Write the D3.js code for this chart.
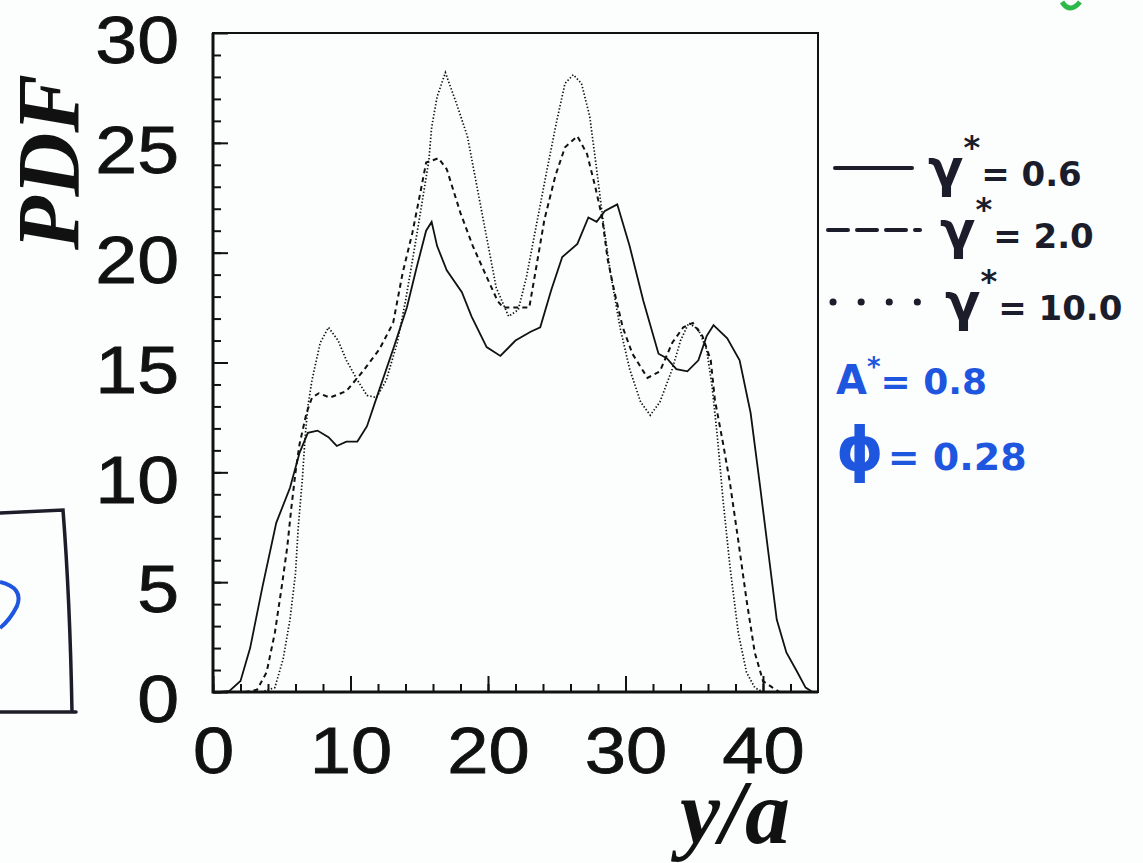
<!DOCTYPE html>
<html>
<head>
<meta charset="utf-8">
<script src="https://cdn.jsdelivr.net/npm/d3@7"></script>
<style>
  html, body { margin: 0; padding: 0; background: #fcfdfd; }
  svg { display: block; }
  .tick text { font-family: "Liberation Sans", Arial, sans-serif; fill: #111; stroke: #111; stroke-width: 0.8px; }
</style>
</head>
<body>
<div id="chart-container"></div>
<script>
// chart values: [y/a, PDF]
const gamma06 = [
  [0.5, 0], [1.2, 0.05], [2, 0.5], [2.7, 2], [3.6, 4.8], [4.6, 7.7], [5.6, 9.3],
  [6.3, 10.9], [6.9, 11.8], [7.6, 11.9], [8.4, 11.6], [9, 11.2], [9.7, 11.4],
  [10.5, 11.4], [11.2, 12.1], [11.9, 13.4], [13.1, 15.6], [14.1, 17.5], [14.8, 19.3],
  [15.5, 21], [15.9, 21.4], [16.3, 20.3], [17, 19.2], [18.1, 18.2], [18.8, 17.1],
  [19.9, 15.7], [20.9, 15.3], [22, 16], [23.1, 16.4], [23.8, 16.6], [24.6, 18.3],
  [25.4, 19.8], [26.5, 20.4], [27.3, 21.6], [27.9, 21.4], [28.5, 21.9], [29.4, 22.2],
  [30.3, 20.3], [31.3, 17.8], [32.4, 15.4], [33, 15.2], [33.7, 14.7], [34.5, 14.6],
  [35.3, 15.1], [35.9, 16.2], [36.4, 16.7], [37.4, 16.1], [38.3, 15.1], [39.1, 12.7],
  [39.8, 9.3], [40.4, 6.3], [41, 3.3], [41.7, 1.8], [42.5, 0.9], [43.1, 0.2], [43.6, 0]
];
const gamma20 = [
  [2.3, 0], [3.2, 0.1], [3.9, 0.9], [4.5, 2.7], [5, 4.8], [5.4, 6.6], [5.7, 8.4],
  [6, 10], [6.3, 11.3], [6.8, 12.7], [7.2, 13.4], [7.7, 13.6], [8.5, 13.4], [9.7, 13.7],
  [10.9, 14.6], [12.1, 15.6], [13.1, 16.8], [13.8, 19.1], [14.5, 20.9], [15.1, 22.8],
  [15.5, 24.1], [16.4, 24.3], [17, 23.8], [18, 21.8], [18.9, 20.3], [19.9, 18.9],
  [20.7, 17.8], [21.1, 17.5], [22.5, 17.5], [23, 17.5], [23.5, 19.3], [24.1, 21.5],
  [24.9, 23.5], [25.6, 24.8], [26.5, 25.3], [27.2, 24.5], [27.8, 23], [28.3, 21.6],
  [28.7, 19.7], [29.2, 18.2], [29.8, 16.6], [30.5, 15.4], [31.6, 14.3], [32.5, 14.6],
  [33.4, 15.9], [34.2, 16.6], [34.9, 16.8], [35.6, 16.2], [36.2, 15.1], [36.5, 13.3],
  [37.1, 11.3], [37.6, 9.5], [38.2, 6.9], [38.8, 4.2], [39.4, 1.8], [40, 0.5],
  [40.7, 0.2], [41.2, 0]
];
const gamma100 = [
  [3.5, 0], [4.5, 0.2], [5.1, 1.5], [5.6, 3.3], [6, 5.4], [6.2, 7.5], [6.5, 9.7],
  [6.7, 11.6], [6.9, 13], [7.2, 14.2], [7.8, 15.9], [8.4, 16.6], [9.1, 16], [9.7, 15.1],
  [10.5, 14.2], [11.2, 13.5], [11.9, 13.4], [12.6, 14.2], [13.4, 15.9], [14, 17.8],
  [14.6, 20], [15, 21.5], [15.7, 24.2], [15.9, 25.7], [16.3, 27.1], [16.9, 28.2],
  [17.7, 26.8], [18.5, 25.3], [19.2, 23], [19.9, 20.7], [20.6, 18.4], [21.5, 17.1],
  [22.2, 17.4], [22.8, 18.9], [23.5, 21.2], [24.3, 23.8], [25, 26], [25.6, 27.7],
  [26.2, 28.1], [26.8, 27.7], [27.4, 26.2], [27.9, 23.8], [28.4, 21.3], [28.9, 19.1],
  [29.6, 16.6], [30.3, 14.7], [31.1, 13.2], [31.8, 12.6], [32.5, 13.2], [33.4, 14.7],
  [34, 16], [34.6, 16.8], [35.3, 16.5], [35.9, 15.6], [36.3, 13.9], [36.7, 11.5],
  [37.1, 8.7], [37.6, 5.7], [38.2, 2.7], [38.8, 0.9], [39.4, 0.2], [40, 0]
];

const xTicks = [0, 10, 20, 30, 40];
const xMinorTicks = d3.range(0, 44, 2);
const yTicks = [0, 5, 10, 15, 20, 25, 30];
const yMinorTicks = d3.range(0, 30, 1);

const legendLabels = ["0.6", "2.0", "10.0"];
const paramLabels = [["A", "= 0.8"], ["\u03d5", "= 0.28"]];

// dimensions and margins
const margin = { top: 33, right: 325, bottom: 171, left: 213 };
const width = 1143 - margin.left - margin.right;
const height = 863 - margin.top - margin.bottom;

// the scanned digits are wider than the font, so stretch them
const stretch = 1.14;

const xScale = d3.scaleLinear().domain([0, 44]).range([0, width]);
const yScale = d3.scaleLinear().domain([0, 30]).range([height, 0]);

const root = d3
  .select("#chart-container")
  .append("svg")
  .attr("width", 1143)
  .attr("height", 863);

const svg = root
  .append("g")
  .attr("transform", `translate(${margin.left}, ${margin.top})`);

// minor ticks (inside the frame)
svg
  .append("g")
  .attr("transform", `translate(0, ${height})`)
  .call(d3.axisBottom(xScale).tickValues(xMinorTicks).tickSize(-8).tickFormat(""))
  .call((g) => g.select(".domain").remove())
  .selectAll(".tick line")
  .attr("stroke", "#111")
  .attr("stroke-width", 2);

svg
  .append("g")
  .call(d3.axisLeft(yScale).tickValues(yMinorTicks).tickSize(-8).tickFormat(""))
  .call((g) => g.select(".domain").remove())
  .selectAll(".tick line")
  .attr("stroke", "#111")
  .attr("stroke-width", 2);

// major ticks with labels
const xAxis = d3
  .axisBottom(xScale)
  .tickValues(xTicks)
  .tickSizeInner(-16)
  .tickSizeOuter(0)
  .tickPadding(35)
  .tickFormat(d3.format("d"));

svg
  .append("g")
  .attr("class", "x-axis")
  .attr("transform", `translate(0, ${height})`)
  .call(xAxis)
  .call((g) => g.select(".domain").remove())
  .call((g) => g.selectAll(".tick line").attr("stroke", "#111").attr("stroke-width", 2))
  .selectAll(".tick text")
  .attr("transform", `scale(${stretch},1)`)
  .style("font-size", "65px");

const yAxis = d3
  .axisLeft(yScale)
  .tickValues(yTicks)
  .tickSizeInner(-15)
  .tickSizeOuter(0)
  .tickPadding(34)
  .tickFormat(d3.format("d"));

svg
  .append("g")
  .attr("class", "y-axis")
  .call(yAxis)
  .call((g) => g.select(".domain").remove())
  .call((g) => g.selectAll(".tick line").attr("stroke", "#111").attr("stroke-width", 2))
  .selectAll(".tick text")
  .attr("x", -34 / stretch)
  .attr("dy", "0.45em")
  .attr("transform", `scale(${stretch},1)`)
  .style("font-size", "66px");

// frame
svg
  .append("rect")
  .attr("width", width)
  .attr("height", height)
  .attr("fill", "none")
  .attr("stroke", "#111")
  .attr("stroke-width", 2);

svg
  .append("path")
  .attr("d", `M0,0V${height}H${width}`)
  .attr("fill", "none")
  .attr("stroke", "#111")
  .attr("stroke-width", 3);

// curves
const line = d3
  .line()
  .x((d) => xScale(d[0]))
  .y((d) => yScale(d[1]));

const series = [
  { data: gamma06, dash: null, w: 1.8 },
  { data: gamma20, dash: "5,4", w: 2 },
  { data: gamma100, dash: "1.4,2", w: 1.7 }
];

svg
  .selectAll(".curve")
  .data(series)
  .join("path")
  .attr("class", "curve")
  .attr("d", (d) => line(d.data))
  .attr("fill", "none")
  .attr("stroke", "#111")
  .attr("stroke-width", (d) => d.w)
  .attr("stroke-dasharray", (d) => d.dash);

// axis titles
root
  .append("text")
  .attr("transform", "translate(78, 162) rotate(-90)")
  .attr("text-anchor", "middle")
  .style("font-family", "'Liberation Serif', 'Times New Roman', serif")
  .style("font-weight", "bold")
  .style("font-style", "italic")
  .style("font-size", "88px")
  .attr("fill", "#111")
  .text("PDF");

root
  .append("text")
  .attr("x", 790)
  .attr("y", 843)
  .attr("text-anchor", "end")
  .style("font-family", "'Liberation Serif', 'Times New Roman', serif")
  .style("font-weight", "bold")
  .style("font-style", "italic")
  .style("font-size", "90px")
  .attr("fill", "#111")
  .text("y/a");

// handwritten legend
const ink = "#1b1d2b";
const blue = "#1f56e0";
const hand = "'DejaVu Sans', sans-serif";

const legendY = [168, 230, 302];
const legendSample = [
  { x1: 835, x2: 912, dash: null },
  { x1: 828, x2: 920, dash: "20,9" },
  { x1: 833, x2: 922, dash: "0.1,28" }
];
const legend = root.append("g");

legendSample.forEach((s, i) => {
  legend
    .append("line")
    .attr("x1", s.x1)
    .attr("x2", s.x2)
    .attr("y1", legendY[i])
    .attr("y2", legendY[i])
    .attr("stroke", ink)
    .attr("stroke-width", i === 2 ? 7 : 4)
    .attr("stroke-linecap", "round")
    .attr("stroke-dasharray", s.dash);
});

const legendTextX = [928, 940, 945];
legendLabels.forEach((lab, i) => {
  const t = legend
    .append("text")
    .attr("x", legendTextX[i])
    .attr("y", legendY[i] + 18)
    .style("font-family", hand)
    .style("font-weight", "bold")
    .style("font-size", "34px")
    .attr("fill", ink);
  t.append("tspan").style("font-size", "52px").text("\u03b3");
  t.append("tspan").attr("dy", -28).style("font-size", "32px").text("*");
  t.append("tspan").attr("dy", 28).attr("dx", 1).text("= " + lab);
});

paramLabels.forEach((p, i) => {
  const t = legend
    .append("text")
    .attr("x", 836)
    .attr("y", i === 0 ? 394 : 470)
    .style("font-family", hand)
    .style("font-weight", "bold")
    .style("font-size", i === 0 ? "36px" : "38px")
    .attr("fill", blue);
  t.append("tspan").style("font-size", i === 0 ? "40px" : "60px").text(p[0]);
  if (i === 0) {
    t.append("tspan").attr("dy", -18).style("font-size", "26px").text("*");
    t.append("tspan").attr("dy", 18).text(p[1]);
  } else {
    t.append("tspan").attr("dx", 4).text(p[1]);
  }
});

// pen marks on the scan
root
  .append("path")
  .attr("d", "M0,513 L63,510 Q70,600 72,712 M0,712 L76,712")
  .attr("fill", "none")
  .attr("stroke", ink)
  .attr("stroke-width", 3.5)
  .attr("stroke-linecap", "round");

root
  .append("path")
  .attr("d", "M0,582 Q24,588 17,606 Q10,620 0,628")
  .attr("fill", "none")
  .attr("stroke", blue)
  .attr("stroke-width", 4);

root
  .append("path")
  .attr("d", "M1062,2 Q1070,14 1080,2")
  .attr("fill", "none")
  .attr("stroke", "#2db84a")
  .attr("stroke-width", 5);
</script>
</body>
</html>
